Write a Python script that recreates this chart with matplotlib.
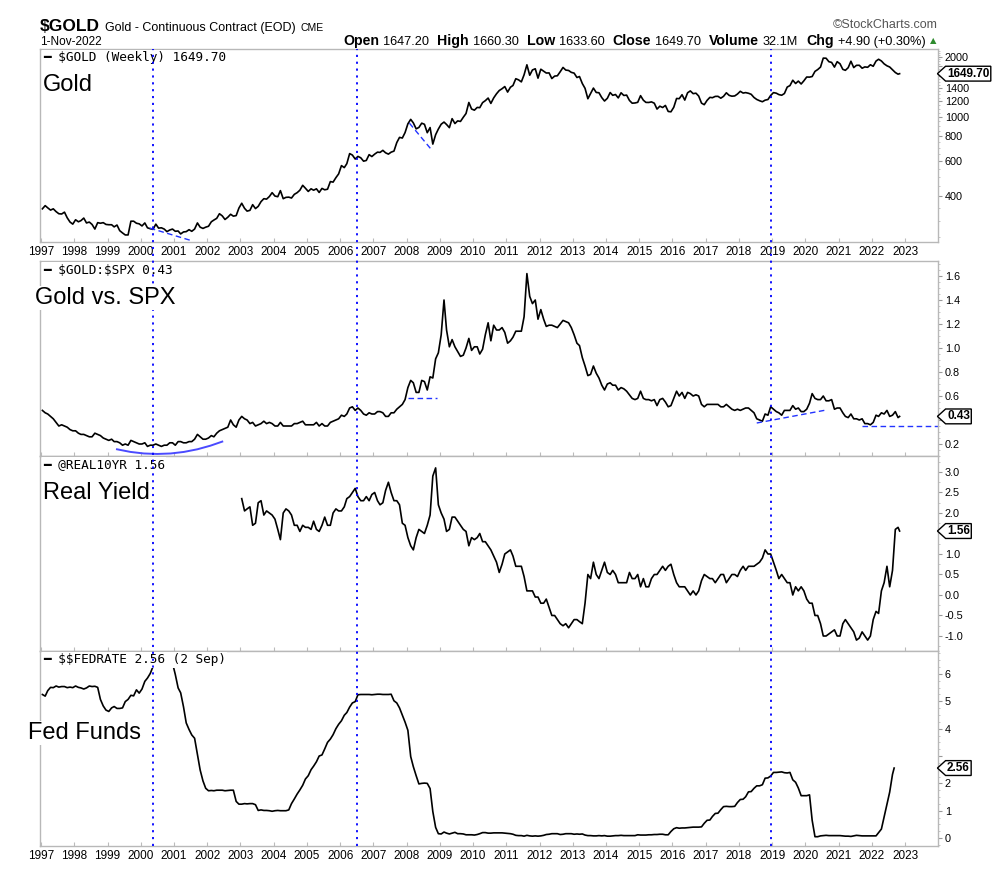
import pandas as pd
import numpy as np
import matplotlib
matplotlib.use("Agg")
import matplotlib.pyplot as plt
import matplotlib.ticker as mticker
import matplotlib.transforms as mtransforms
from matplotlib.lines import Line2D
from matplotlib.path import Path

plt.rcParams['font.family'] = ['Liberation Sans', 'DejaVu Sans']

# ---------------- data (monthly) ----------------
gold = [
    345, 358, 349, 340, 345, 334, 326, 325, 332, 311, 296, 289,
    304, 297, 301, 310, 293, 296, 288, 273, 294, 292, 294, 288,
    287, 287, 280, 286, 268, 261, 255, 255, 299, 299, 292, 290,
    283, 293, 277, 274, 272, 289, 276, 277, 273, 265, 270, 273,
    266, 267, 258, 264, 265, 271, 266, 273, 293, 279, 275, 279,
    282, 297, 303, 309, 326, 318, 305, 313, 324, 317, 319, 348,
    368, 347, 336, 339, 362, 346, 355, 375, 388, 386, 398, 416,
    400, 397, 426, 388, 394, 395, 391, 408, 416, 428, 453, 438,
    422, 435, 428, 435, 417, 437, 430, 433, 473, 470, 495, 517,
    569, 556, 582, 654, 643, 614, 633, 623, 599, 604, 646, 632,
    650, 665, 663, 679, 660, 650, 665, 673, 743, 789, 783, 834,
    923, 972, 933, 871, 885, 930, 918, 833, 884, 730, 814, 869,
    919, 942, 916, 883, 980, 926, 955, 949, 996, 1040, 1182, 1096,
    1081, 1116, 1113, 1180, 1207, 1244, 1169, 1246, 1307, 1357, 1386, 1421,
    1333, 1410, 1439, 1556, 1536, 1500, 1628, 1828, 1620, 1722, 1746, 1566,
    1737, 1697, 1662, 1664, 1559, 1604, 1610, 1687, 1773, 1720, 1712, 1675,
    1660, 1578, 1596, 1472, 1392, 1234, 1312, 1396, 1327, 1323, 1250, 1202,
    1240, 1326, 1284, 1296, 1246, 1322, 1282, 1287, 1210, 1172, 1175, 1184,
    1279, 1213, 1183, 1182, 1190, 1172, 1095, 1132, 1115, 1142, 1065, 1061,
    1118, 1238, 1235, 1293, 1215, 1322, 1351, 1309, 1316, 1273, 1173, 1152,
    1211, 1254, 1249, 1268, 1269, 1242, 1269, 1322, 1283, 1271, 1275, 1303,
    1345, 1318, 1325, 1315, 1299, 1252, 1224, 1206, 1192, 1214, 1223, 1282,
    1325, 1316, 1295, 1285, 1311, 1413, 1437, 1529, 1472, 1514, 1464, 1519,
    1587, 1585, 1596, 1694, 1730, 1781, 1975, 1973, 1895, 1879, 1780, 1895,
    1850, 1734, 1715, 1768, 1905, 1770, 1817, 1818, 1757, 1784, 1776, 1829,
    1797, 1909, 1949, 1911, 1848, 1807, 1782, 1726, 1672, 1640, 1649.7,
]

gold_spx = [
    0.48, 0.46, 0.45, 0.43, 0.41, 0.38, 0.35, 0.36, 0.35, 0.34, 0.32, 0.31,
    0.31, 0.29, 0.28, 0.28, 0.27, 0.26, 0.26, 0.29, 0.28, 0.27, 0.25, 0.24,
    0.23, 0.24, 0.22, 0.22, 0.21, 0.19, 0.20, 0.19, 0.23, 0.22, 0.21, 0.20,
    0.20, 0.21, 0.18, 0.19, 0.19, 0.20, 0.19, 0.18, 0.19, 0.19, 0.21, 0.21,
    0.19, 0.22, 0.22, 0.21, 0.21, 0.22, 0.22, 0.24, 0.28, 0.26, 0.24, 0.24,
    0.25, 0.27, 0.26, 0.29, 0.31, 0.32, 0.33, 0.34, 0.40, 0.36, 0.34, 0.40,
    0.43, 0.41, 0.40, 0.37, 0.38, 0.35, 0.36, 0.37, 0.39, 0.37, 0.38, 0.37,
    0.35, 0.35, 0.38, 0.35, 0.35, 0.35, 0.35, 0.37, 0.37, 0.38, 0.39, 0.36,
    0.36, 0.36, 0.36, 0.38, 0.35, 0.37, 0.35, 0.35, 0.38, 0.39, 0.40, 0.41,
    0.44, 0.43, 0.45, 0.50, 0.51, 0.48, 0.50, 0.48, 0.45, 0.44, 0.46, 0.45,
    0.45, 0.47, 0.47, 0.46, 0.43, 0.43, 0.46, 0.46, 0.49, 0.51, 0.53, 0.57,
    0.67, 0.73, 0.71, 0.63, 0.63, 0.73, 0.72, 0.65, 0.76, 0.75, 0.91, 0.96,
    1.11, 1.40, 1.15, 1.01, 1.07, 1.01, 0.97, 0.93, 0.94, 1.00, 1.08, 0.98,
    1.01, 1.01, 0.95, 0.99, 1.11, 1.21, 1.06, 1.19, 1.15, 1.15, 1.17, 1.13,
    1.04, 1.06, 1.09, 1.14, 1.14, 1.14, 1.26, 1.62, 1.43, 1.37, 1.40, 1.24,
    1.32, 1.24, 1.18, 1.19, 1.19, 1.18, 1.17, 1.20, 1.23, 1.22, 1.21, 1.17,
    1.11, 1.04, 1.02, 0.92, 0.85, 0.77, 0.78, 0.85, 0.79, 0.75, 0.69, 0.65,
    0.70, 0.71, 0.69, 0.69, 0.65, 0.67, 0.66, 0.64, 0.61, 0.58, 0.57, 0.58,
    0.64, 0.58, 0.57, 0.57, 0.56, 0.57, 0.52, 0.57, 0.58, 0.55, 0.51, 0.52,
    0.58, 0.64, 0.60, 0.63, 0.58, 0.63, 0.62, 0.60, 0.61, 0.60, 0.53, 0.51,
    0.53, 0.53, 0.53, 0.53, 0.53, 0.51, 0.51, 0.53, 0.51, 0.49, 0.48, 0.49,
    0.48, 0.49, 0.50, 0.50, 0.48, 0.46, 0.41, 0.40, 0.39, 0.45, 0.44, 0.51,
    0.49, 0.47, 0.46, 0.44, 0.48, 0.48, 0.48, 0.52, 0.49, 0.50, 0.47, 0.47,
    0.49, 0.54, 0.62, 0.58, 0.57, 0.57, 0.60, 0.56, 0.56, 0.57, 0.49, 0.50,
    0.50, 0.46, 0.43, 0.42, 0.45, 0.41, 0.41, 0.40, 0.41, 0.37, 0.37, 0.36,
    0.38, 0.44, 0.43, 0.46, 0.45, 0.48, 0.43, 0.44, 0.47, 0.42, 0.43,
]

# 10-year real yield starts in Jan 2003
real_yield = [
    2.35, 2.05, 2.10, 2.15, 1.70, 1.75, 2.25, 2.30, 1.95, 2.05, 2.00, 1.95,
    1.85, 1.60, 1.35, 2.00, 2.10, 2.05, 1.95, 1.70, 1.70, 1.55, 1.70, 1.65,
    1.65, 1.60, 1.80, 1.60, 1.55, 1.70, 1.90, 1.70, 1.70, 2.00, 2.10, 2.05,
    2.05, 2.15, 2.35, 2.40, 2.50, 2.60, 2.40, 2.30, 2.30, 2.40, 2.30, 2.45,
    2.50, 2.30, 2.20, 2.25, 2.55, 2.75, 2.50, 2.30, 2.30, 2.20, 1.75, 1.70,
    1.40, 1.20, 1.10, 1.40, 1.60, 1.55, 1.50, 1.70, 1.95, 2.90, 3.10, 2.20,
    2.00, 1.85, 1.55, 1.60, 1.90, 1.90, 1.80, 1.70, 1.60, 1.55, 1.20, 1.40,
    1.35, 1.40, 1.50, 1.30, 1.30, 1.20, 1.10, 0.95, 0.80, 0.55, 0.75, 1.00,
    1.05, 1.10, 0.95, 0.70, 0.70, 0.70, 0.45, 0.10, 0.10, 0.10, -0.05, -0.05,
    -0.20, -0.20, -0.10, -0.30, -0.50, -0.50, -0.60, -0.70, -0.75, -0.70, -0.80, -0.70,
    -0.60, -0.60, -0.65, -0.70, -0.20, 0.50, 0.40, 0.80, 0.50, 0.40, 0.60, 0.80,
    0.55, 0.50, 0.60, 0.50, 0.30, 0.30, 0.30, 0.30, 0.55, 0.40, 0.40, 0.50,
    0.20, 0.40, 0.20, 0.20, 0.40, 0.50, 0.50, 0.60, 0.70, 0.60, 0.70, 0.75,
    0.50, 0.30, 0.20, 0.20, 0.20, 0.10, 0.00, 0.10, 0.00, 0.10, 0.35, 0.50,
    0.45, 0.40, 0.40, 0.30, 0.40, 0.50, 0.50, 0.30, 0.40, 0.50, 0.50, 0.45,
    0.60, 0.70, 0.60, 0.70, 0.70, 0.70, 0.75, 0.80, 0.90, 1.10, 1.00, 1.00,
    0.80, 0.60, 0.40, 0.50, 0.40, 0.30, 0.30, 0.00, 0.20, 0.10, 0.20, 0.10,
    -0.10, -0.20, -0.20, -0.50, -0.50, -0.70, -1.00, -1.00, -0.95, -0.90, -0.85, -1.00,
    -1.00, -0.70, -0.60, -0.70, -0.80, -0.90, -1.10, -1.05, -0.90, -1.00, -1.10, -1.00,
    -0.60, -0.40, -0.45, 0.10, 0.30, 0.70, 0.20, 0.60, 1.60, 1.65, 1.56,
]

# effective fed funds rate, last print 2 Sep 2022
fed_funds = [
    5.25, 5.19, 5.39, 5.51, 5.50, 5.56, 5.52, 5.54, 5.54, 5.50, 5.52, 5.50,
    5.56, 5.51, 5.49, 5.45, 5.49, 5.56, 5.54, 5.55, 5.51, 5.07, 4.83, 4.68,
    4.63, 4.76, 4.81, 4.74, 4.74, 4.76, 4.99, 5.07, 5.22, 5.20, 5.42, 5.30,
    5.45, 5.73, 5.85, 6.02, 6.27, 6.53, 6.54, 6.50, 6.52, 6.51, 6.51, 6.40,
    5.98, 5.49, 5.31, 4.80, 4.21, 3.97, 3.77, 3.65, 3.07, 2.49, 2.09, 1.82,
    1.73, 1.74, 1.73, 1.75, 1.75, 1.75, 1.73, 1.74, 1.75, 1.75, 1.34, 1.24,
    1.24, 1.26, 1.25, 1.26, 1.26, 1.22, 1.01, 1.03, 1.01, 1.01, 1.00, 0.98,
    1.00, 1.01, 1.00, 1.00, 1.00, 1.03, 1.26, 1.43, 1.61, 1.76, 1.93, 2.16,
    2.28, 2.50, 2.63, 2.79, 3.00, 3.04, 3.26, 3.50, 3.62, 3.78, 4.00, 4.16,
    4.29, 4.49, 4.59, 4.79, 4.94, 4.99, 5.24, 5.25, 5.25, 5.25, 5.25, 5.24,
    5.25, 5.26, 5.26, 5.25, 5.25, 5.25, 5.26, 5.02, 4.94, 4.76, 4.49, 4.24,
    3.94, 2.98, 2.61, 2.28, 1.98, 2.00, 2.01, 2.00, 1.81, 0.97, 0.39, 0.16,
    0.15, 0.22, 0.18, 0.15, 0.18, 0.21, 0.16, 0.16, 0.15, 0.12, 0.12, 0.12,
    0.11, 0.13, 0.16, 0.20, 0.20, 0.18, 0.18, 0.19, 0.19, 0.19, 0.19, 0.18,
    0.17, 0.16, 0.14, 0.10, 0.09, 0.09, 0.07, 0.10, 0.08, 0.07, 0.08, 0.07,
    0.08, 0.10, 0.13, 0.14, 0.16, 0.16, 0.16, 0.13, 0.14, 0.16, 0.16, 0.16,
    0.14, 0.15, 0.14, 0.15, 0.11, 0.09, 0.09, 0.08, 0.08, 0.09, 0.08, 0.09,
    0.07, 0.07, 0.08, 0.09, 0.09, 0.10, 0.09, 0.09, 0.09, 0.09, 0.09, 0.12,
    0.11, 0.11, 0.11, 0.12, 0.12, 0.13, 0.13, 0.14, 0.14, 0.12, 0.12, 0.24,
    0.34, 0.38, 0.36, 0.37, 0.37, 0.38, 0.39, 0.40, 0.40, 0.40, 0.41, 0.54,
    0.65, 0.66, 0.79, 0.90, 0.91, 1.04, 1.15, 1.16, 1.15, 1.15, 1.16, 1.30,
    1.41, 1.42, 1.51, 1.69, 1.70, 1.82, 1.91, 1.91, 1.95, 2.19, 2.20, 2.27,
    2.40, 2.40, 2.41, 2.42, 2.39, 2.38, 2.40, 2.13, 2.04, 1.83, 1.55, 1.55,
    1.55, 1.58, 0.65, 0.05, 0.05, 0.08, 0.09, 0.10, 0.09, 0.09, 0.09, 0.09,
    0.09, 0.08, 0.07, 0.07, 0.06, 0.08, 0.10, 0.09, 0.08, 0.08, 0.08, 0.08,
    0.08, 0.08, 0.20, 0.33, 0.77, 1.21, 1.68, 2.33, 2.56,
]

# hand-drawn annotations on the chart (date, value)
gold_trendlines = [
    [("2000-04-10", 276), ("2001-06-25", 240)],
    [("2008-02-01", 930), ("2008-10-05", 680)],
]
ratio_arc_dates = ["1999-04-15", "1999-09-10", "2000-02-05", "2000-07-01", "2000-11-25",
                   "2001-04-20", "2001-09-15", "2002-02-05", "2002-06-15"]
ratio_arc_vals = [0.156, 0.134, 0.121, 0.117, 0.121, 0.134, 0.156, 0.186, 0.220]
ratio_trendlines = [
    [("2008-01-15", 0.583), ("2008-12-01", 0.583)],
    [("2018-07-15", 0.375), ("2020-08-15", 0.483)],
    [("2021-09-15", 0.35), ("2023-12-28", 0.35)],
]
marker_dates = ["2000-05-20", "2006-07-05", "2018-12-24"]

last_labels = ["1649.70", "0.43", "1.56", "2.56"]
legend_labels = ["$GOLD (Weekly) 1649.70", "$GOLD:$SPX 0.43",
                 "@REAL10YR 1.56", "$$FEDRATE 2.56 (2 Sep)"]
panel_titles = ["Gold", "Gold vs. SPX", "Real Yield", "Fed Funds"]


def monthly_dates(start, values, last_date):
    d = pd.date_range(start, periods=len(values) - 1, freq="MS") + pd.Timedelta(days=14)
    return list(d) + [pd.Timestamp(last_date)]


gold_dates = monthly_dates("1997-01-01", gold, "2022-11-01")
ratio_dates = monthly_dates("1997-01-01", gold_spx, "2022-11-01")
ry_dates = monthly_dates("2003-01-01", real_yield, "2022-11-01")
ff_dates = monthly_dates("1997-01-01", fed_funds, "2022-09-02")

# ---------------- figure ----------------
W, H = 996, 882
fig = plt.figure(figsize=(W / 100, H / 100), dpi=100)
FRAME = "#b8b8b8"
BLUE = "#2233ff"


def panel(top, bottom):
    return fig.add_axes([40 / W, 1 - bottom / H, 898 / W, (bottom - top) / H])


ax1 = panel(49, 242)
ax2 = panel(261, 456)
ax3 = panel(456, 651)
ax4 = panel(651, 846)
axes = [ax1, ax2, ax3, ax4]

ax1.plot(gold_dates, gold, color="black", lw=1.2)
ax2.plot(ratio_dates, gold_spx, color="black", lw=1.2)
ax3.plot(ry_dates, real_yield, color="black", lw=1.2)
ax4.plot(ff_dates, fed_funds, color="black", lw=1.2)

for seg in gold_trendlines:
    ax1.plot([pd.Timestamp(s[0]) for s in seg], [s[1] for s in seg],
             color=BLUE, lw=1, ls=(0, (4, 2.5)))
ax2.plot(pd.to_datetime(ratio_arc_dates), ratio_arc_vals, color="#4a4aff", lw=1.4)
for seg in ratio_trendlines:
    ax2.plot([pd.Timestamp(s[0]) for s in seg], [s[1] for s in seg],
             color=BLUE, lw=1, ls=(0, (4, 2.5)), clip_on=False)

# y scales (labels hidden under the value tags are left blank, as on the original)
ax1.set_yscale("log")
ax1.set_ylim(235, 2195)
gold_ticks = [400, 600, 800, 1000, 1200, 1400, 1600, 1800, 2000]
ax1.set_yticks(gold_ticks, labels=["400", "600", "800", "1000", "1200", "1400", "", "", "2000"])
ax1.yaxis.set_minor_locator(mticker.FixedLocator(list(range(250, 2200, 50))))
ax1.yaxis.set_minor_formatter(mticker.NullFormatter())

ax2.set_ylim(0.1, 1.725)
ax2.set_yticks([0.2, 0.4, 0.6, 0.8, 1.0, 1.2, 1.4, 1.6],
               labels=["0.2", "", "0.6", "0.8", "1.0", "1.2", "1.4", "1.6"])
ax2.yaxis.set_minor_locator(mticker.MultipleLocator(0.05))

ax3.set_ylim(-1.366, 3.39)
ax3.set_yticks([-1.0, -0.5, 0.0, 0.5, 1.0, 1.5, 2.0, 2.5, 3.0],
               labels=["-1.0", "-0.5", "0.0", "0.5", "1.0", "", "2.0", "2.5", "3.0"])
ax3.yaxis.set_minor_locator(mticker.MultipleLocator(0.25))

ax4.set_ylim(-0.29, 6.84)
ax4.set_yticks([0, 1, 2, 3, 4, 5, 6], labels=["0", "1", "2", "", "4", "5", "6"])
ax4.yaxis.set_minor_locator(mticker.MultipleLocator(0.25))

x_left, x_right = pd.Timestamp("1996-12-20"), pd.Timestamp("2023-12-28")
year_ticks = pd.date_range("1997-01-01", "2023-01-01", freq="YS")

for i, ax in enumerate(axes):
    ax.set_xlim(x_left, x_right)
    for sp in ax.spines.values():
        sp.set_color(FRAME)
        sp.set_linewidth(1)
    ax.yaxis.tick_right()
    ax.tick_params(axis="y", which="major", direction="out", length=3, color="#999999",
                   labelsize=7.8, pad=2)
    ax.tick_params(axis="y", which="minor", direction="out", length=1.5, color="#bbbbbb")
    ax.set_xticks(year_ticks)
    ax.set_xticklabels([str(d.year) for d in year_ticks])
    ax.tick_params(axis="x", direction="in", length=3, color="#bbbbbb", labelsize=8.5, pad=3)
    if i in (1, 2):
        ax.tick_params(axis="x", labelbottom=False)


# last value tags on the right axis
def tag_box(x0, y0, width, height, mutation_size):
    pad = 0.12 * mutation_size
    x0, y0 = x0 - pad, y0 - pad
    x1, y1 = x0 + width + 2 * pad, y0 + height + 2 * pad
    ym = 0.5 * (y0 + y1)
    tip = 0.55 * (y1 - y0)
    return Path([(x0 - tip, ym), (x0, y0), (x1, y0), (x1, y1), (x0, y1), (x0 - tip, ym)],
                closed=True)


last_values = [gold[-1], gold_spx[-1], real_yield[-1], fed_funds[-1]]
for ax, val, lab in zip(axes, last_values, last_labels):
    ax.annotate(lab, xy=(1, val), xycoords=("axes fraction", "data"),
                xytext=(9, 0), textcoords="offset pixels", ha="left", va="center",
                fontsize=8.5, fontweight="bold", annotation_clip=False,
                bbox=dict(boxstyle=tag_box, fc="white", ec="black", lw=1), zorder=6)

# legend lines in each panel
for ax, lab in zip(axes, legend_labels):
    ax.annotate("━ " + lab, xy=(0, 1), xycoords="axes fraction", xytext=(3, -9),
                textcoords="offset pixels", ha="left", va="center",
                family="DejaVu Sans Mono", fontsize=9.2, parse_math=False,
                bbox=dict(boxstyle="square,pad=0.1", fc="white", ec="none"), zorder=5)

# vertical dotted markers through all panels
vtrans = mtransforms.blended_transform_factory(ax1.transData, fig.transFigure)
for d in marker_dates:
    xn = matplotlib.dates.date2num(pd.Timestamp(d))
    fig.add_artist(Line2D([xn, xn], [1 - 846 / H, 1 - 49 / H], transform=vtrans,
                          color="#0000ff", lw=1.3, ls=(0, (1.2, 2.6)), zorder=2))

# big panel titles
title_pos = [(43, 85), (35, 298), (43, 493), (28, 733)]
for (px, py), t in zip(title_pos, panel_titles):
    fig.text(px / W, 1 - py / H, t, fontsize=17, ha="left", va="center", zorder=3,
             bbox=dict(boxstyle="square,pad=0.05", fc="white", ec="none"))

# header
renderer = fig.canvas.get_renderer()


def chain(x, y, pieces):
    for s, size, weight, color, gap in pieces:
        t = fig.text(x / W, 1 - y / H, s, fontsize=size, fontweight=weight, color=color,
                     ha="left", va="baseline", parse_math=False)
        x += t.get_window_extent(renderer).width + gap
    return x


chain(40, 31, [("$GOLD", 12.5, "bold", "black", 5),
               ("Gold - Continuous Contract (EOD)", 9, "normal", "black", 5),
               ("CME", 7.5, "normal", "black", 0)])
fig.text(40 / W, 1 - 45 / H, "1-Nov-2022", fontsize=8.5, va="baseline")

stats = [("Open", "1647.20"), ("High", "1660.30"), ("Low", "1633.60"), ("Close", "1649.70"),
         ("Volume", "32.1M"), ("Chg", "+4.90 (+0.30%)")]
pieces = []
for k, v in stats:
    pieces.append((k, 10.2, "bold", "black", 4))
    pieces.append((v, 9.2, "normal", "black", 8))
chain(343, 45, pieces)
fig.text(933 / W, 1 - 41 / H, "▲", fontsize=6, color="#2e8b2e", ha="center", va="center",
         family="DejaVu Sans")
fig.text(938 / W, 1 - 25 / H, "©StockCharts.com", fontsize=9, color="#555555",
         ha="right", va="center")

fig.savefig("out.png", dpi=100)
